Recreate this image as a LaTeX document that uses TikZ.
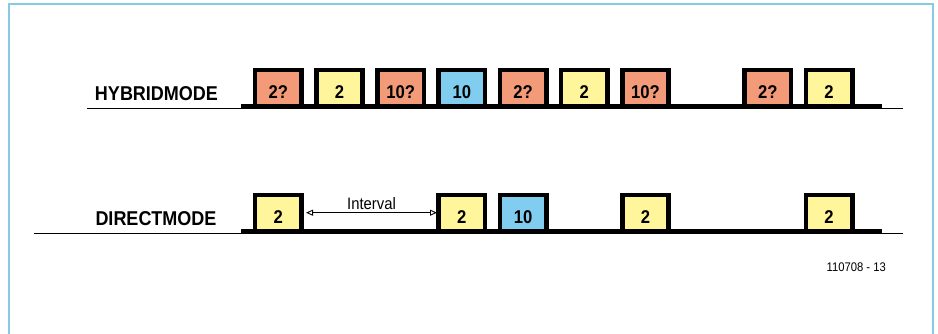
\documentclass[tikz,border=0pt]{standalone}
\usepackage{fontspec}
\setmainfont{Liberation Sans}
\newfontfamily\narrowfont[FakeStretch=0.9]{Liberation Sans}
\usetikzlibrary{arrows.meta}
\definecolor{sal}{HTML}{F39B78}
\definecolor{yel}{HTML}{FFF59A}
\definecolor{blu}{HTML}{80CDEF}
\definecolor{frame}{HTML}{86CBE2}
\tikzset{
  pulse/.style={line width=4.6pt, line join=miter, line cap=butt},
  baseln/.style={line width=3.4pt},
  refln/.style={line width=1.3pt},
  boxlabel/.style={font=\narrowfont\fontsize{18.5}{18}\selectfont\bfseries, anchor=base, inner sep=0pt},
  modelabel/.style={font=\narrowfont\fontsize{20}{20}\selectfont\bfseries, anchor=base, inner sep=0pt},
}
\begin{document}
\begin{tikzpicture}[x=1pt,y=-1pt]
\useasboundingbox (0,0) rectangle (938,333);
% frame
\draw[frame, line width=2pt] (9,334) -- (9,4) -- (933,4) -- (933,334);
% labels
\node[modelabel] (hm) at (156.5,100) {HYBRIDMODE};
\node[modelabel] (dm) at (156,225.5) {DIRECTMODE};
% reference lines
\draw[refln] (87,108.6) -- (903,108.6);
\draw[refln] (34,233.6) -- (903,233.6);
% hybrid row
\foreach \k/\c/\t [count=\i] in {0/sal/2?,1/yel/2,2/sal/10?,3/blu/10,4/sal/2?,5/yel/2,6/sal/10?,8/sal/2?,9/yel/2}{
  \pgfmathsetmacro\xl{255+61.2*\k}
  \fill[\c] (\xl,70) rectangle (\xl+46.5,105.5);
}
\draw[baseln] (241,105.8) -- (882,105.8);
\foreach \k/\c/\t [count=\i] in {0/sal/2?,1/yel/2,2/sal/10?,3/blu/10,4/sal/2?,5/yel/2,6/sal/10?,8/sal/2?,9/yel/2}{
  \pgfmathsetmacro\xl{255+61.2*\k}
  \draw[pulse] (\xl,106) -- (\xl,70) -- (\xl+46.5,70) -- (\xl+46.5,106);
  \node[boxlabel] (h\i) at (\xl+23.25,98) {\t};
}
% direct row
\foreach \k/\c/\t [count=\i] in {0/yel/2,3/yel/2,4/blu/10,6/yel/2,9/yel/2}{
  \pgfmathsetmacro\xl{255+61.2*\k}
  \fill[\c] (\xl,195) rectangle (\xl+46.5,230.5);
}
\draw[baseln] (241,230.8) -- (882,230.8);
\foreach \k/\c/\t [count=\i] in {0/yel/2,3/yel/2,4/blu/10,6/yel/2,9/yel/2}{
  \pgfmathsetmacro\xl{255+61.2*\k}
  \draw[pulse] (\xl,231) -- (\xl,195) -- (\xl+46.5,195) -- (\xl+46.5,231);
  \node[boxlabel] (d\i) at (\xl+23.25,223) {\t};
}
% interval
\coordinate (ia) at (306,212.7);
\coordinate (ib) at (437,212.7);
\draw[line width=0.9pt, {Triangle[open,length=7pt,width=6pt]}-{Triangle[open,length=7pt,width=6pt]}] (ia) -- (ib);
\node[font=\narrowfont\fontsize{16.5}{16}\selectfont, anchor=base, inner sep=0pt] (iv) at (371.5,209.5) {Interval};
% figure number
\node[font=\narrowfont\fontsize{12.5}{12}\selectfont, anchor=base east, inner sep=0pt] (fn) at (886,271) {110708 - 13};
\end{tikzpicture}
\end{document}
